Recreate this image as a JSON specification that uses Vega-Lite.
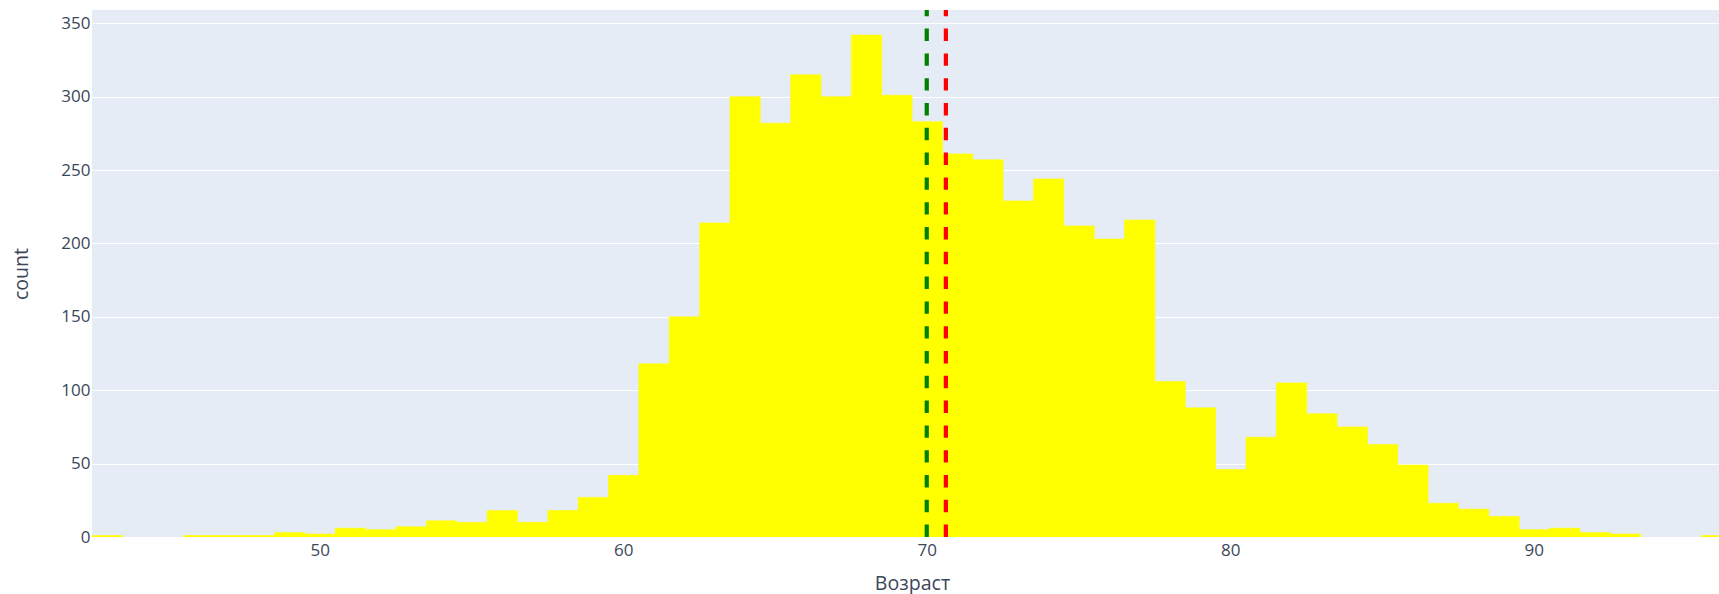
{
  "$schema": "https://vega.github.io/schema/vega-lite/v6.json",
  "width": 1627,
  "height": 527,
  "autosize": {"type": "none"},
  "padding": {"left": 92, "top": 10, "right": 0, "bottom": 57},
  "background": "#ffffff",
  "config": {
    "font": "Open Sans",
    "view": {"fill": "#E5ECF6", "stroke": null}
  },
  "datasets": {
    "bins": [
      {"bin_start": 42.5, "bin_end": 43.5, "count": 1},
      {"bin_start": 45.5, "bin_end": 46.5, "count": 1},
      {"bin_start": 46.5, "bin_end": 47.5, "count": 1},
      {"bin_start": 47.5, "bin_end": 48.5, "count": 1},
      {"bin_start": 48.5, "bin_end": 49.5, "count": 3},
      {"bin_start": 49.5, "bin_end": 50.5, "count": 2},
      {"bin_start": 50.5, "bin_end": 51.5, "count": 6},
      {"bin_start": 51.5, "bin_end": 52.5, "count": 5},
      {"bin_start": 52.5, "bin_end": 53.5, "count": 7},
      {"bin_start": 53.5, "bin_end": 54.5, "count": 11},
      {"bin_start": 54.5, "bin_end": 55.5, "count": 10},
      {"bin_start": 55.5, "bin_end": 56.5, "count": 18},
      {"bin_start": 56.5, "bin_end": 57.5, "count": 10},
      {"bin_start": 57.5, "bin_end": 58.5, "count": 18},
      {"bin_start": 58.5, "bin_end": 59.5, "count": 27},
      {"bin_start": 59.5, "bin_end": 60.5, "count": 42},
      {"bin_start": 60.5, "bin_end": 61.5, "count": 118},
      {"bin_start": 61.5, "bin_end": 62.5, "count": 150},
      {"bin_start": 62.5, "bin_end": 63.5, "count": 214},
      {"bin_start": 63.5, "bin_end": 64.5, "count": 300},
      {"bin_start": 64.5, "bin_end": 65.5, "count": 282},
      {"bin_start": 65.5, "bin_end": 66.5, "count": 315},
      {"bin_start": 66.5, "bin_end": 67.5, "count": 300},
      {"bin_start": 67.5, "bin_end": 68.5, "count": 342},
      {"bin_start": 68.5, "bin_end": 69.5, "count": 301},
      {"bin_start": 69.5, "bin_end": 70.5, "count": 283},
      {"bin_start": 70.5, "bin_end": 71.5, "count": 261},
      {"bin_start": 71.5, "bin_end": 72.5, "count": 257},
      {"bin_start": 72.5, "bin_end": 73.5, "count": 229},
      {"bin_start": 73.5, "bin_end": 74.5, "count": 244},
      {"bin_start": 74.5, "bin_end": 75.5, "count": 212},
      {"bin_start": 75.5, "bin_end": 76.5, "count": 203},
      {"bin_start": 76.5, "bin_end": 77.5, "count": 216},
      {"bin_start": 77.5, "bin_end": 78.5, "count": 106},
      {"bin_start": 78.5, "bin_end": 79.5, "count": 88},
      {"bin_start": 79.5, "bin_end": 80.5, "count": 46},
      {"bin_start": 80.5, "bin_end": 81.5, "count": 68},
      {"bin_start": 81.5, "bin_end": 82.5, "count": 105},
      {"bin_start": 82.5, "bin_end": 83.5, "count": 84},
      {"bin_start": 83.5, "bin_end": 84.5, "count": 75},
      {"bin_start": 84.5, "bin_end": 85.5, "count": 63},
      {"bin_start": 85.5, "bin_end": 86.5, "count": 49},
      {"bin_start": 86.5, "bin_end": 87.5, "count": 23},
      {"bin_start": 87.5, "bin_end": 88.5, "count": 19},
      {"bin_start": 88.5, "bin_end": 89.5, "count": 14},
      {"bin_start": 89.5, "bin_end": 90.5, "count": 5},
      {"bin_start": 90.5, "bin_end": 91.5, "count": 6},
      {"bin_start": 91.5, "bin_end": 92.5, "count": 3},
      {"bin_start": 92.5, "bin_end": 93.5, "count": 2},
      {"bin_start": 95.5, "bin_end": 96.5, "count": 1}
    ],
    "stats": [
      {"stat": "median", "value": 70.0},
      {"stat": "mean", "value": 70.63}
    ]
  },
  "layer": [
    {
      "data": {"name": "bins"},
      "mark": {"type": "bar", "color": "#FFFF00", "stroke": "#FFFF00", "strokeWidth": 0.6, "clip": true, "binSpacing": 0},
      "encoding": {
        "x": {
          "field": "bin_start",
          "type": "quantitative",
          "bin": {"binned": true, "step": 1},
          "scale": {"domain": [42.5, 96.1], "nice": false, "zero": false},
          "axis": {
            "title": "Возраст",
            "values": [50, 60, 70, 80, 90],
            "grid": false,
            "domain": false,
            "ticks": false,
            "tickSize": 0,
            "labelPadding": 18,
            "labelBaseline": "alphabetic",
            "labelFontSize": 17,
            "labelColor": "#3b4759",
            "labelFont": "Open Sans",
            "titleFont": "Open Sans",
            "titleFontSize": 19.6,
            "titleFontWeight": "normal",
            "titleColor": "#3b4759",
            "titleX": 820,
            "titleY": 52,
            "titleBaseline": "alphabetic",
            "titleAnchor": null
          }
        },
        "x2": {"field": "bin_end"},
        "y": {
          "field": "count",
          "type": "quantitative",
          "scale": {"domain": [0, 359.1], "nice": false},
          "axis": {
            "title": "count",
            "values": [0, 50, 100, 150, 200, 250, 300, 350],
            "grid": true,
            "gridColor": "#ffffff",
            "gridWidth": 1,
            "gridOpacity": 1,
            "domain": false,
            "ticks": false,
            "tickSize": 0,
            "labelPadding": 2,
            "labelFontSize": 17,
            "labelColor": "#3b4759",
            "labelFont": "Open Sans",
            "titleFont": "Open Sans",
            "titleFontSize": 19.6,
            "titleFontWeight": "normal",
            "titleColor": "#3b4759",
            "titleX": -71,
            "titleY": 263.5,
            "titleAngle": -90,
            "titleBaseline": "middle",
            "titleAlign": "center",
            "titleAnchor": null
          }
        }
      }
    },
    {
      "data": {"name": "stats"},
      "mark": {"type": "rule", "strokeWidth": 4.2, "strokeDash": [12.4, 12.4], "clip": true},
      "encoding": {
        "x": {"field": "value", "type": "quantitative"},
        "y": {"datum": 0},
        "y2": {"datum": 359.1},
        "color": {
          "field": "stat",
          "type": "nominal",
          "scale": {"domain": ["median", "mean"], "range": ["#008000", "#FF0000"]},
          "legend": null
        }
      }
    }
  ]
}
